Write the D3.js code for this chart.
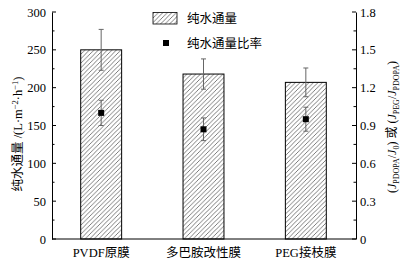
<!DOCTYPE html>
<html>
<head>
<meta charset="utf-8">
<script src="https://cdn.jsdelivr.net/npm/d3@7"></script>
<style>
  body { margin: 0; background: #fff; }
  svg text { font-family: "Liberation Serif", "Noto Sans CJK SC", serif; fill: #000; }
</style>
</head>
<body>
<svg id="chart" width="401" height="263"></svg>
<script>
const categories = ['PVDF原膜', '多巴胺改性膜', 'PEG接枝膜'];
const fluxValues = [250, 218, 207];
const fluxErrors = [27, 20, 19];
const ratioValues = [1.0, 0.87, 0.95];
const ratioErrors = [0.1, 0.09, 0.095];
const leftTicks = [0, 50, 100, 150, 200, 250, 300];
const rightTicks = [0, 0.3, 0.6, 0.9, 1.2, 1.5, 1.8];

const svg = d3.select('#chart');
const axLeftX = 52, axRightX = 356, plotTop = 12, plotBottom = 239;

const x = d3.scaleBand().domain(categories).range([50, 357]).paddingInner(0.6).paddingOuter(0.3);
const yL = d3.scaleLinear().domain([0, 300]).range([plotBottom, plotTop]);
const yR = d3.scaleLinear().domain([0, 1.8]).range([plotBottom, plotTop]);

// hatch
const pat = svg.append('defs').append('pattern')
    .attr('id', 'hatch')
    .attr('patternUnits', 'userSpaceOnUse')
    .attr('width', 4.5).attr('height', 4.5);
pat.append('rect').attr('width', 4.5).attr('height', 4.5).attr('fill', '#fff');
pat.append('path')
    .attr('d', 'M-1,5.5 L5.5,-1 M-1,1 L1,-1 M3.5,5.5 L5.5,3.5')
    .attr('stroke', '#444').attr('stroke-width', 0.7);

// bars
svg.selectAll('.bar')
    .data(fluxValues)
    .enter()
    .append('rect')
    .attr('class', 'bar')
    .attr('x', (d, i) => x(categories[i]))
    .attr('y', (d) => yL(d))
    .attr('width', x.bandwidth())
    .attr('height', (d) => plotBottom - yL(d))
    .attr('fill', 'url(#hatch)')
    .attr('stroke', '#000')
    .attr('stroke-width', 1);

const errorBar = (cx, yTop, yBot) => {
    let g = svg.append('g').attr('stroke', '#666').attr('stroke-width', 1);
    g.append('line').attr('x1', cx).attr('x2', cx).attr('y1', yTop).attr('y2', yBot);
    g.append('line').attr('x1', cx - 2.5).attr('x2', cx + 2.5).attr('y1', yTop).attr('y2', yTop);
    g.append('line').attr('x1', cx - 2.5).attr('x2', cx + 2.5).attr('y1', yBot).attr('y2', yBot);
};

categories.forEach((c, i) => {
    let cx = x(c) + x.bandwidth() / 2;
    errorBar(cx, yL(fluxValues[i] + fluxErrors[i]), yL(fluxValues[i] - fluxErrors[i]));
    errorBar(cx, yR(ratioValues[i] + ratioErrors[i]), yR(ratioValues[i] - ratioErrors[i]));
});

svg.selectAll('.pt')
    .data(ratioValues)
    .enter()
    .append('rect')
    .attr('class', 'pt')
    .attr('x', (d, i) => x(categories[i]) + x.bandwidth() / 2 - 3)
    .attr('y', (d) => yR(d) - 3)
    .attr('width', 6).attr('height', 6)
    .attr('fill', '#000');

// axes
svg.append('line').attr('x1', axLeftX).attr('x2', axRightX).attr('y1', plotBottom).attr('y2', plotBottom)
    .attr('stroke', '#000');

const axL = svg.append('g').attr('transform', `translate(${axLeftX},0)`)
    .call(d3.axisLeft(yL).tickValues(leftTicks).tickSize(0).tickPadding(6));
axL.select('.domain').attr('stroke', '#000');
axL.selectAll('text').attr('font-size', 12.5).style('font-family', '"Liberation Serif", serif');
axL.selectAll('.minor')
    .data(d3.range(0, 301, 25))
    .enter()
    .append('line')
    .attr('x1', 0).attr('x2', (d) => d % 50 === 0 ? 4 : 2.5)
    .attr('y1', (d) => yL(d)).attr('y2', (d) => yL(d))
    .attr('stroke', '#000');

const axR = svg.append('g').attr('transform', `translate(${axRightX},0)`)
    .call(d3.axisRight(yR).tickValues(rightTicks).tickSize(0).tickPadding(4)
        .tickFormat((d) => d === 0 ? '0' : d3.format('.1f')(d)));
axR.select('.domain').attr('stroke', '#000');
axR.selectAll('text').attr('font-size', 12.5).style('font-family', '"Liberation Serif", serif');
axR.selectAll('.minor')
    .data(d3.range(0, 13).map((k) => k * 0.15))
    .enter()
    .append('line')
    .attr('x1', 0).attr('x2', (d, i) => i % 2 === 0 ? -4 : -2.5)
    .attr('y1', (d) => yR(d)).attr('y2', (d) => yR(d))
    .attr('stroke', '#000');

// category labels
svg.selectAll('.cat')
    .data(categories)
    .enter()
    .append('text')
    .attr('x', (d) => x(d) + x.bandwidth() / 2)
    .attr('y', 257)
    .attr('text-anchor', 'middle')
    .attr('font-size', 12.5)
    .text((d) => d);

// left title
const lt = svg.append('text')
    .attr('transform', 'translate(22,134) rotate(-90)')
    .attr('text-anchor', 'middle')
    .attr('font-size', 12.5);
lt.append('tspan').text('纯水通量 /(L·m');
lt.append('tspan').attr('dy', -4).attr('font-size', 8.5).text('−2');
lt.append('tspan').attr('dy', 4).text('·h');
lt.append('tspan').attr('dy', -4).attr('font-size', 8.5).text('−1');
lt.append('tspan').attr('dy', 4).text(')');

// right title
const rt = svg.append('text')
    .attr('transform', 'translate(396,127) rotate(-90)')
    .attr('text-anchor', 'middle')
    .attr('font-size', 12);
const part = (t, opt) => {
    let s = rt.append('tspan').text(t);
    if (opt && opt.italic) s.attr('font-style', 'italic');
    if (opt && opt.sub) s.attr('font-size', 8).attr('dy', 3);
    if (opt && opt.up) s.attr('dy', -3);
    return s;
};
part('(');
part('J', { italic: true });
part('PDOPA', { sub: true });
part('/', { up: true });
part('J', { italic: true });
part('0', { sub: true });
part(') 或 (', { up: true });
part('J', { italic: true });
part('PEG', { sub: true });
part('/', { up: true });
part('J', { italic: true });
part('PDOPA', { sub: true });
part(')', { up: true });

// legend
const lg = svg.append('g');
lg.append('rect').attr('x', 153).attr('y', 12.5).attr('width', 24).attr('height', 11.5)
    .attr('fill', 'url(#hatch)').attr('stroke', '#000').attr('stroke-width', 0.8);
lg.append('text').attr('x', 187).attr('y', 22.5).attr('font-size', 12.5).text('纯水通量');
lg.append('rect').attr('x', 163).attr('y', 40).attr('width', 6).attr('height', 6).attr('fill', '#000');
lg.append('text').attr('x', 187).attr('y', 47.5).attr('font-size', 12.5).text('纯水通量比率');
</script>
</body>
</html>
